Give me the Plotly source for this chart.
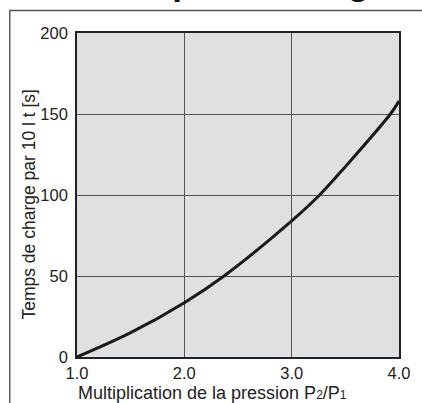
import plotly.graph_objects as go

# Data
pressure_ratio = [1.0, 1.5, 2.0, 2.37, 3.0, 3.26, 3.5, 3.92, 4.0]
fill_time_s = [0.0, 15.0, 33.5, 50.0, 84.0, 100.0, 117.5, 150.0, 158.0]

x_ticks = [1.0, 2.0, 3.0, 4.0]
x_tick_labels = ["1.0", "2.0", "3.0", "4.0"]
y_ticks = [0, 50, 100, 150, 200]
y_tick_labels = ["0", "50", "100", "150", "200"]

FONT = "Liberation Sans, Arial, Helvetica, sans-serif"
W, H = 422, 403
ml, mr, mt, mb = 76.7, 16.3, 32.5, 46
pw = W - ml - mr
ph = H - mt - mb

def px_to_paper_x(px):
    return (px - ml) / pw

def px_to_paper_y(py):
    return 1 - (py - mt) / ph

fig = go.Figure()
fig.add_trace(go.Scatter(
    x=pressure_ratio, y=fill_time_s, mode="lines",
    line=dict(color="#1a1a1a", width=3, shape="spline", smoothing=1.0),
    hoverinfo="skip", showlegend=False,
))

fig.update_layout(
    width=W, height=H,
    margin=dict(l=ml, r=mr, t=mt, b=mb, pad=0),
    paper_bgcolor="white",
    plot_bgcolor="#dfe0e2",
    font=dict(family=FONT, size=16, color="#222"),
    showlegend=False,
    xaxis=dict(
        range=[1.0, 4.0], tickvals=x_ticks, ticktext=x_tick_labels,
        showgrid=True, gridcolor="#555", gridwidth=1.4,
        showline=True, linecolor="#222", linewidth=1.6, mirror=True,
        zeroline=False, ticks="", ticklabelstandoff=0,
        tickfont=dict(family=FONT, size=16.5, color="#222"),
    ),
    yaxis=dict(
        range=[0, 200], tickvals=y_ticks, ticktext=y_tick_labels,
        showgrid=True, gridcolor="#555", gridwidth=1.4,
        showline=True, linecolor="#222", linewidth=1.6, mirror=True,
        zeroline=False, ticks="", ticklabelstandoff=4,
        tickfont=dict(family=FONT, size=16.5, color="#222"),
    ),
)

# Axis titles as annotations (positioned as in the reference)
fig.add_annotation(
    text="Multiplication de la pression P<span style='font-size:12px'>2</span>/P<span style='font-size:12px'>1</span>",
    xref="paper", yref="paper", x=px_to_paper_x(76), y=px_to_paper_y(393),
    xanchor="left", yanchor="middle", showarrow=False,
    font=dict(family=FONT, size=18, color="#222"),
)
fig.add_annotation(
    text="Temps de charge par 10 l t [s]",
    xref="paper", yref="paper", x=px_to_paper_x(28), y=px_to_paper_y(204),
    xanchor="center", yanchor="middle", textangle=-90, showarrow=False,
    font=dict(family=FONT, size=17.5, color="#222"),
)

# Outer frame (top and left edges visible)
fx = px_to_paper_x(8)
fy = px_to_paper_y(10)
fig.add_shape(type="path", xref="paper", yref="paper",
              path=f"M {fx} -0.5 L {fx} {fy} L 1.5 {fy}",
              line=dict(color="#555", width=1.4))

# Cut-off title at the very top
fig.add_annotation(
    text="<b>Temps de charge</b>", xref="paper", yref="paper",
    x=px_to_paper_x(249), y=px_to_paper_y(0), xanchor="center", yanchor="bottom",
    yshift=-3, showarrow=False,
    font=dict(family=FONT, size=35, color="#111"),
)

fig.write_html("out.html")
